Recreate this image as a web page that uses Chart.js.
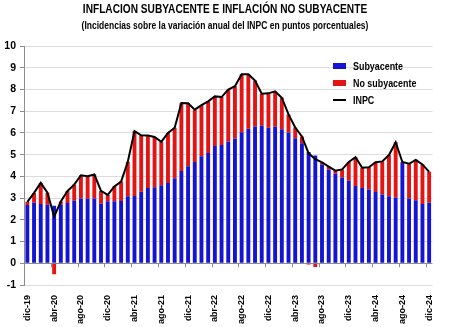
<!DOCTYPE html>
<html>
<head>
<meta charset="utf-8">
<script src="https://cdn.jsdelivr.net/npm/chart.js@4/dist/chart.umd.min.js"></script>
<style>
    body { margin: 0; background: #ffffff; }
    #wrap { position: relative; width: 450px; height: 327px; font-family: 'Liberation Sans', Arial, sans-serif; font-weight: bold; color: #000; }
    .centro { position: absolute; left: 0; width: 450px; text-align: center; white-space: nowrap; }
    #titulo { top: 0; font-size: 13px; line-height: 17px; transform: scaleX(0.78); }
    #subtitulo { top: 17px; font-size: 10.5px; line-height: 16px; transform: scaleX(0.81); }
    .ley { position: absolute; left: 333px; font-size: 11px; line-height: 14px; }
    .caja { position: absolute; left: 0; width: 13px; height: 6px; top: 4px; }
    .linea { position: absolute; left: 0; width: 13px; height: 2px; top: 6px; background: #000; }
    .ley span { position: absolute; left: 20px; white-space: nowrap; transform: scaleX(0.81); transform-origin: left center; }
    canvas { position: absolute; left: 0; top: 0; }
</style>
</head>
<body>
<div id="wrap">
    <canvas id="inflacionChart" width="450" height="327"></canvas>
    <div id="titulo" class="centro">INFLACION SUBYACENTE E INFLACIÓN NO SUBYACENTE</div>
    <div id="subtitulo" class="centro">(Incidencias sobre la variación anual del INPC en puntos porcentuales)</div>
    <div class="ley" style="top:59px"><div class="caja" style="background:#1414d2"></div><span>Subyacente</span></div>
    <div class="ley" style="top:76px"><div class="caja" style="background:#e41414"></div><span>No subyacente</span></div>
    <div class="ley" style="top:93px"><div class="linea"></div><span>INPC</span></div>
</div>

<script>

/* =========================
   DATA
========================= */

const meses = [
    "dic-19",
    "ene-20", "feb-20", "mar-20", "abr-20", "may-20", "jun-20", "jul-20", "ago-20", "sep-20", "oct-20", "nov-20", "dic-20",
    "ene-21", "feb-21", "mar-21", "abr-21", "may-21", "jun-21", "jul-21", "ago-21", "sep-21", "oct-21", "nov-21", "dic-21",
    "ene-22", "feb-22", "mar-22", "abr-22", "may-22", "jun-22", "jul-22", "ago-22", "sep-22", "oct-22", "nov-22", "dic-22",
    "ene-23", "feb-23", "mar-23", "abr-23", "may-23", "jun-23", "jul-23", "ago-23", "sep-23", "oct-23", "nov-23", "dic-23",
    "ene-24", "feb-24", "mar-24", "abr-24", "may-24", "jun-24", "jul-24", "ago-24", "sep-24", "oct-24", "nov-24", "dic-24"
];

const subyacente = [
    2.68,
    2.78, 2.73, 2.69, 2.65, 2.72, 2.77, 2.88, 2.98, 2.98, 2.98, 2.74, 2.85,
    2.86, 2.87, 3.09, 3.10, 3.29, 3.46, 3.50, 3.59, 3.70, 3.91, 4.25, 4.46,
    4.66, 4.93, 5.07, 5.40, 5.44, 5.60, 5.74, 6.03, 6.19, 6.29, 6.33, 6.24,
    6.28, 6.17, 6.02, 5.75, 5.52, 5.12, 4.96, 4.55, 4.32, 4.12, 3.95, 3.80,
    3.56, 3.47, 3.40, 3.28, 3.17, 3.09, 3.03, 4.62, 2.98, 2.90, 2.73, 2.78
];

const noSubyacente = [
    0.15,
    0.46, 0.97, 0.56, -0.50, 0.12, 0.56, 0.74, 1.07, 1.03, 1.11, 0.59, 0.30,
    0.68, 0.89, 1.58, 2.98, 2.60, 2.42, 2.31, 2.00, 2.30, 2.33, 3.12, 2.90,
    2.41, 2.35, 2.38, 2.28, 2.21, 2.39, 2.41, 2.67, 2.51, 2.12, 1.47, 1.58,
    1.63, 1.45, 0.83, 0.50, 0.32, -0.06, -0.17, 0.09, 0.13, 0.14, 0.37, 0.86,
    1.32, 0.93, 1.02, 1.37, 1.52, 1.89, 2.54, 0.04, 1.60, 1.86, 1.82, 1.43
];

const inpc = [
    2.83,
    3.24, 3.70, 3.25, 2.15, 2.84, 3.33, 3.62, 4.05, 4.01, 4.09, 3.33, 3.15,
    3.54, 3.76, 4.67, 6.08, 5.89, 5.88, 5.81, 5.59, 6.00, 6.24, 7.37, 7.36,
    7.07, 7.28, 7.45, 7.68, 7.65, 7.99, 8.15, 8.70, 8.70, 8.41, 7.80, 7.82,
    7.91, 7.62, 6.85, 6.25, 5.84, 5.06, 4.79, 4.64, 4.45, 4.26, 4.32, 4.66,
    4.88, 4.40, 4.42, 4.65, 4.69, 4.98, 5.57, 4.66, 4.58, 4.76, 4.55, 4.21
];

const ejeYMin = -1;
const ejeYMax = 10;

const fuente = "'Liberation Sans', Arial, sans-serif";

/* =========================
   TICK MARKS ON ZERO LINE
========================= */

const marcasCero = {

    id: "marcasCero",

    afterDatasetsDraw(chart) {

        const x = chart.scales.x;
        const y0 = chart.scales.y.getPixelForValue(0);
        const ctx = chart.ctx;

        ctx.save();
        ctx.strokeStyle = "#8c8c8c";
        ctx.lineWidth = 1;

        for (let k = 4; k < meses.length; k += 4) {

            const px =
                Math.round(
                    (x.getPixelForValue(k - 1) + x.getPixelForValue(k)) / 2
                ) + 0.5;

            ctx.beginPath();
            ctx.moveTo(px, y0);
            ctx.lineTo(px, y0 + 4);
            ctx.stroke();

        }

        ctx.restore();

    }

};

/* =========================
   CHART
========================= */

let inflacionChart;

function renderInflacionChart() {

    const ctx =
        document.getElementById(
            "inflacionChart"
        );

    inflacionChart = new Chart(ctx, {

        type: "bar",

        data: {

            labels: meses,

            datasets: [

                {
                    type: "line",
                    label: "INPC",
                    data: inpc,
                    borderColor: "#000000",
                    borderWidth: 2,
                    pointRadius: 0,
                    tension: 0,
                    stack: "linea",
                    order: 0
                },

                {
                    label: "Subyacente",
                    data: subyacente,
                    backgroundColor: "#1414d2",
                    stack: "barras",
                    order: 1
                },

                {
                    label: "No subyacente",
                    data: noSubyacente,
                    backgroundColor: "#e41414",
                    stack: "barras",
                    order: 1
                }

            ]

        },

        options: {

            responsive: false,

            animation: false,

            devicePixelRatio: 1,

            datasets: {
                bar: {
                    categoryPercentage: 1,
                    barPercentage: 0.58
                }
            },

            layout: {
                padding: { top: 46, right: 6, left: 0, bottom: 0 }
            },

            plugins: {
                legend: { display: false },
                tooltip: { enabled: false }
            },

            scales: {

                x: {

                    stacked: true,

                    grid: { display: false, drawTicks: false },

                    border: { display: false },

                    ticks: {
                        autoSkip: false,
                        minRotation: 90,
                        maxRotation: 90,
                        padding: 10,
                        color: "#000000",
                        font: { family: fuente, size: 9, weight: "bold" },
                        callback: (valor, i) => i % 4 === 0 ? meses[i] : ""
                    },

                    afterFit: (escala) => { escala.height = 42; }

                },

                y: {

                    stacked: true,

                    min: ejeYMin,

                    max: ejeYMax,

                    grid: {
                        color: (c) => c.tick && c.tick.value === 0 ? "#8c8c8c" : "#dcdcdc",
                        tickLength: 4,
                        tickColor: "#8c8c8c"
                    },

                    border: { display: true, color: "#8c8c8c" },

                    ticks: {
                        stepSize: 1,
                        padding: 4,
                        color: "#000000",
                        font: { family: fuente, size: 10.5, weight: "bold" }
                    },

                    afterFit: (escala) => { escala.width = 24; }

                }

            }

        },

        plugins: [marcasCero]

    });

}

renderInflacionChart();

</script>
</body>
</html>
